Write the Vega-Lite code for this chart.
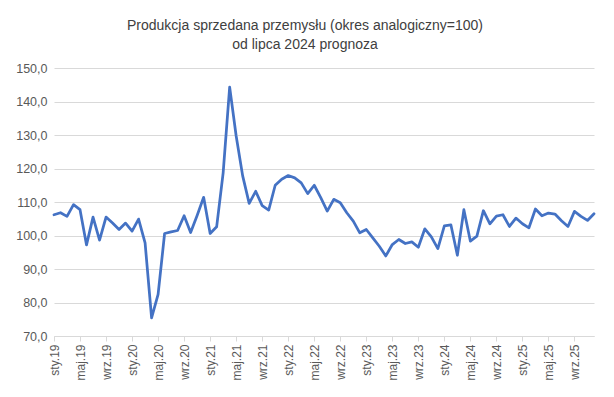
{
  "$schema": "https://vega.github.io/schema/vega-lite/v6.json",
  "autosize": {"type": "none"},
  "width": 540,
  "height": 268,
  "padding": {"left": 54, "top": 68, "right": 20, "bottom": 61},
  "background": "white",
  "title": {
    "text": ["Produkcja sprzedana przemysłu (okres analogiczny=100)", "od lipca 2024 prognoza"],
    "anchor": "middle",
    "dx": -19,
    "offset": 10,
    "fontSize": 14,
    "font": "Liberation Sans",
    "fontWeight": "normal",
    "color": "#404040",
    "lineHeight": 19
  },
  "config": {
    "view": {"stroke": null},
    "axis": {"labelFont": "Liberation Sans", "labelColor": "#595959"}
  },
  "data": {
    "values": [
      {"m": "sty.19", "v": 106.2}, {"m": "lut.19", "v": 106.8}, {"m": "mar.19", "v": 105.7}, {"m": "kwi.19", "v": 109.2},
      {"m": "maj.19", "v": 107.7}, {"m": "cze.19", "v": 97.2}, {"m": "lip.19", "v": 105.5}, {"m": "sie.19", "v": 98.6},
      {"m": "wrz.19", "v": 105.5}, {"m": "paź.19", "v": 103.7}, {"m": "lis.19", "v": 101.8}, {"m": "gru.19", "v": 103.7},
      {"m": "sty.20", "v": 101.3}, {"m": "lut.20", "v": 104.9}, {"m": "mar.20", "v": 97.8}, {"m": "kwi.20", "v": 75.4},
      {"m": "maj.20", "v": 82.4}, {"m": "cze.20", "v": 100.6}, {"m": "lip.20", "v": 101.1}, {"m": "sie.20", "v": 101.5},
      {"m": "wrz.20", "v": 105.9}, {"m": "paź.20", "v": 100.9}, {"m": "lis.20", "v": 106.0}, {"m": "gru.20", "v": 111.4},
      {"m": "sty.21", "v": 100.6}, {"m": "lut.21", "v": 102.6}, {"m": "mar.21", "v": 118.7}, {"m": "kwi.21", "v": 144.3},
      {"m": "maj.21", "v": 129.7}, {"m": "cze.21", "v": 117.8}, {"m": "lip.21", "v": 109.6}, {"m": "sie.21", "v": 113.2},
      {"m": "wrz.21", "v": 108.9}, {"m": "paź.21", "v": 107.6}, {"m": "lis.21", "v": 115.0}, {"m": "gru.21", "v": 116.8},
      {"m": "sty.22", "v": 117.9}, {"m": "lut.22", "v": 117.2}, {"m": "mar.22", "v": 115.7}, {"m": "kwi.22", "v": 112.5},
      {"m": "maj.22", "v": 115.0}, {"m": "cze.22", "v": 111.3}, {"m": "lip.22", "v": 107.3}, {"m": "sie.22", "v": 110.8},
      {"m": "wrz.22", "v": 109.8}, {"m": "paź.22", "v": 106.8}, {"m": "lis.22", "v": 104.3}, {"m": "gru.22", "v": 100.8},
      {"m": "sty.23", "v": 101.8}, {"m": "lut.23", "v": 99.3}, {"m": "mar.23", "v": 96.8}, {"m": "kwi.23", "v": 93.9},
      {"m": "maj.23", "v": 97.3}, {"m": "cze.23", "v": 98.8}, {"m": "lip.23", "v": 97.6}, {"m": "sie.23", "v": 98.1},
      {"m": "wrz.23", "v": 96.5}, {"m": "paź.23", "v": 102.0}, {"m": "lis.23", "v": 99.6}, {"m": "gru.23", "v": 96.1},
      {"m": "sty.24", "v": 102.9}, {"m": "lut.24", "v": 103.2}, {"m": "mar.24", "v": 94.1}, {"m": "kwi.24", "v": 107.7},
      {"m": "maj.24", "v": 98.3}, {"m": "cze.24", "v": 99.8}, {"m": "lip.24", "v": 107.4}, {"m": "sie.24", "v": 103.5},
      {"m": "wrz.24", "v": 105.8}, {"m": "paź.24", "v": 106.2}, {"m": "lis.24", "v": 102.7}, {"m": "gru.24", "v": 105.2},
      {"m": "sty.25", "v": 103.5}, {"m": "lut.25", "v": 102.3}, {"m": "mar.25", "v": 107.9}, {"m": "kwi.25", "v": 105.9},
      {"m": "maj.25", "v": 106.7}, {"m": "cze.25", "v": 106.4}, {"m": "lip.25", "v": 104.4}, {"m": "sie.25", "v": 102.7},
      {"m": "wrz.25", "v": 107.2}, {"m": "paź.25", "v": 105.7}, {"m": "lis.25", "v": 104.5}, {"m": "gru.25", "v": 106.5}
    ]
  },
  "mark": {"type": "line", "color": "#4472C4", "strokeWidth": 2.75, "strokeJoin": "round", "strokeCap": "round"},
  "encoding": {
    "x": {
      "field": "m",
      "type": "ordinal",
      "sort": null,
      "scale": {"type": "point", "padding": 0},
      "axis": {
        "title": null,
        "values": ["sty.19", "maj.19", "wrz.19", "sty.20", "maj.20", "wrz.20", "sty.21", "maj.21", "wrz.21", "sty.22", "maj.22", "wrz.22", "sty.23", "maj.23", "wrz.23", "sty.24", "maj.24", "wrz.24", "sty.25", "maj.25", "wrz.25"],
        "labelAngle": 270,
        "labelFontSize": 12,
        "labelPadding": 3,
        "tickSize": 5,
        "tickColor": "#d9d9d9",
        "domainColor": "#d9d9d9",
        "grid": false
      }
    },
    "y": {
      "field": "v",
      "type": "quantitative",
      "scale": {"domain": [70, 150], "zero": false, "nice": false},
      "axis": {
        "title": null,
        "values": [70, 80, 90, 100, 110, 120, 130, 140, 150],
        "labelExpr": "replace(format(datum.value, '.1f'), '.', ',')",
        "labelFontSize": 12.5,
        "labelPadding": 7,
        "ticks": false,
        "domain": false,
        "grid": true,
        "gridColor": "#d9d9d9",
        "gridWidth": 1
      }
    }
  }
}
